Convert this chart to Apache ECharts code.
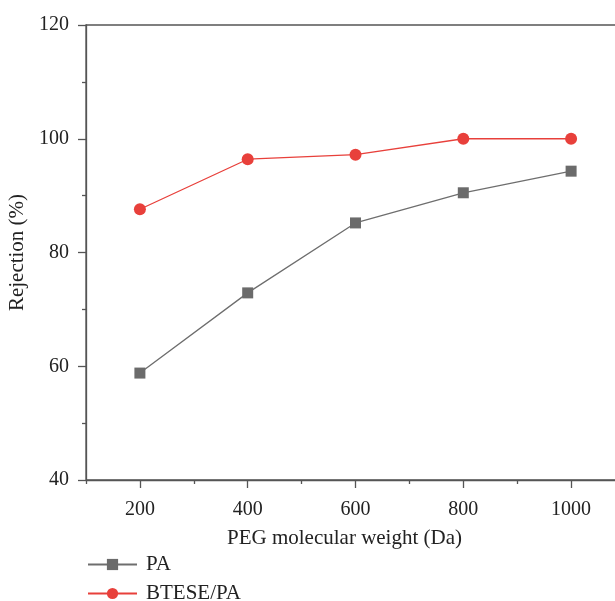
<!DOCTYPE html>
<html>
<head>
<meta charset="utf-8">
<script src="https://cdn.jsdelivr.net/npm/echarts@6/dist/echarts.min.js"></script>
<style>
    html, body { margin: 0; padding: 0; background: #fff; }
    #chart { width: 615px; height: 601px; }
</style>
</head>
<body>
<div id="chart"></div>
<script>
// PEG molecular weight (Da)
const pegWeights = [200, 400, 600, 800, 1000];
// rejection (%)
const rejectionPA = [58.8, 72.9, 85.2, 90.5, 94.3];
const rejectionBTESE = [87.6, 96.4, 97.2, 100, 100];
const seriesNames = ["PA", "BTESE/PA"];
// x ticks: labelled majors and short minors in between
const xMajorTicks = [200, 400, 600, 800, 1000];
const xMinorTicks = [100, 300, 500, 700, 900, 1100];

const font = "'Liberation Serif', 'DejaVu Serif', serif";
const axisColor = "#555";
const tickStyle = { color: axisColor, width: 1.3 };

const chart = echarts.init(document.getElementById("chart"));

function pairs(xs, ys) {
    return xs.map((x, i) => [x, ys[i]]);
}

// one legend box per entry, stacked
function legendBox(name, top) {
    return {
        data: [name],
        left: 87,
        top: top,
        padding: 0,
        itemWidth: 49,
        itemHeight: 14,
        textStyle: { fontFamily: font, fontSize: 21, color: "#222", padding: [0, 0, 0, 4] },
    };
}

const option = {
    animation: false,
    grid: {
        left: 86,
        top: 25,
        right: -10, // right frame is cut off in the reference
        bottom: 121,
        outerBoundsMode: "none",
        show: true,
        borderColor: axisColor,
        borderWidth: 1.3,
    },
    title: {
        text: "PEG molecular weight (Da)",
        left: 227,
        top: 528,
        textStyle: { fontFamily: font, fontSize: 21, fontWeight: "normal", color: "#222" },
        padding: 0,
    },
    legend: [legendBox(seriesNames[0], 554), legendBox(seriesNames[1], 583)],
    xAxis: [
        {
            type: "value",
            position: "bottom",
            min: 100,
            max: 1100,
            axisLine: { onZero: false, lineStyle: tickStyle },
            axisTick: { length: 8, customValues: xMajorTicks, lineStyle: tickStyle },
            splitLine: { show: false },
            axisLabel: {
                margin: 20,
                customValues: xMajorTicks,
                formatter: (v) => String(v),
                fontFamily: font,
                fontSize: 20,
                color: "#222",
            },
        },
        {
            type: "value",
            position: "bottom",
            min: 100,
            max: 1100,
            axisLine: { show: false, onZero: false },
            axisTick: { length: 4, customValues: xMinorTicks, lineStyle: tickStyle },
            splitLine: { show: false },
            axisLabel: { show: false },
        },
    ],
    yAxis: {
        type: "value",
        min: 40,
        max: 120,
        interval: 20,
        name: "Rejection (%)",
        nameLocation: "middle",
        nameGap: 53,
        nameTextStyle: { fontFamily: font, fontSize: 21, color: "#222" },
        axisLine: { show: true, lineStyle: tickStyle },
        axisTick: { show: true, length: 8, lineStyle: tickStyle },
        minorTick: { show: true, splitNumber: 2, length: 4, lineStyle: tickStyle },
        splitLine: { show: false },
        axisLabel: { margin: 17, fontFamily: font, fontSize: 20, color: "#222" },
    },
    series: [
        {
            name: seriesNames[0],
            type: "line",
            xAxisIndex: 0,
            data: pairs(pegWeights, rejectionPA),
            symbol: "rect",
            symbolSize: 11,
            color: "#6b6b6b",
            lineStyle: { color: "#6e6e6e", width: 1.3 },
            itemStyle: { color: "#6b6b6b" },
        },
        {
            name: seriesNames[1],
            type: "line",
            xAxisIndex: 0,
            data: pairs(pegWeights, rejectionBTESE),
            symbol: "circle",
            symbolSize: 12,
            color: "#e8403b",
            lineStyle: { color: "#e8403b", width: 1.3 },
            itemStyle: { color: "#e8403b" },
        },
    ],
};

chart.setOption(option);
</script>
</body>
</html>
